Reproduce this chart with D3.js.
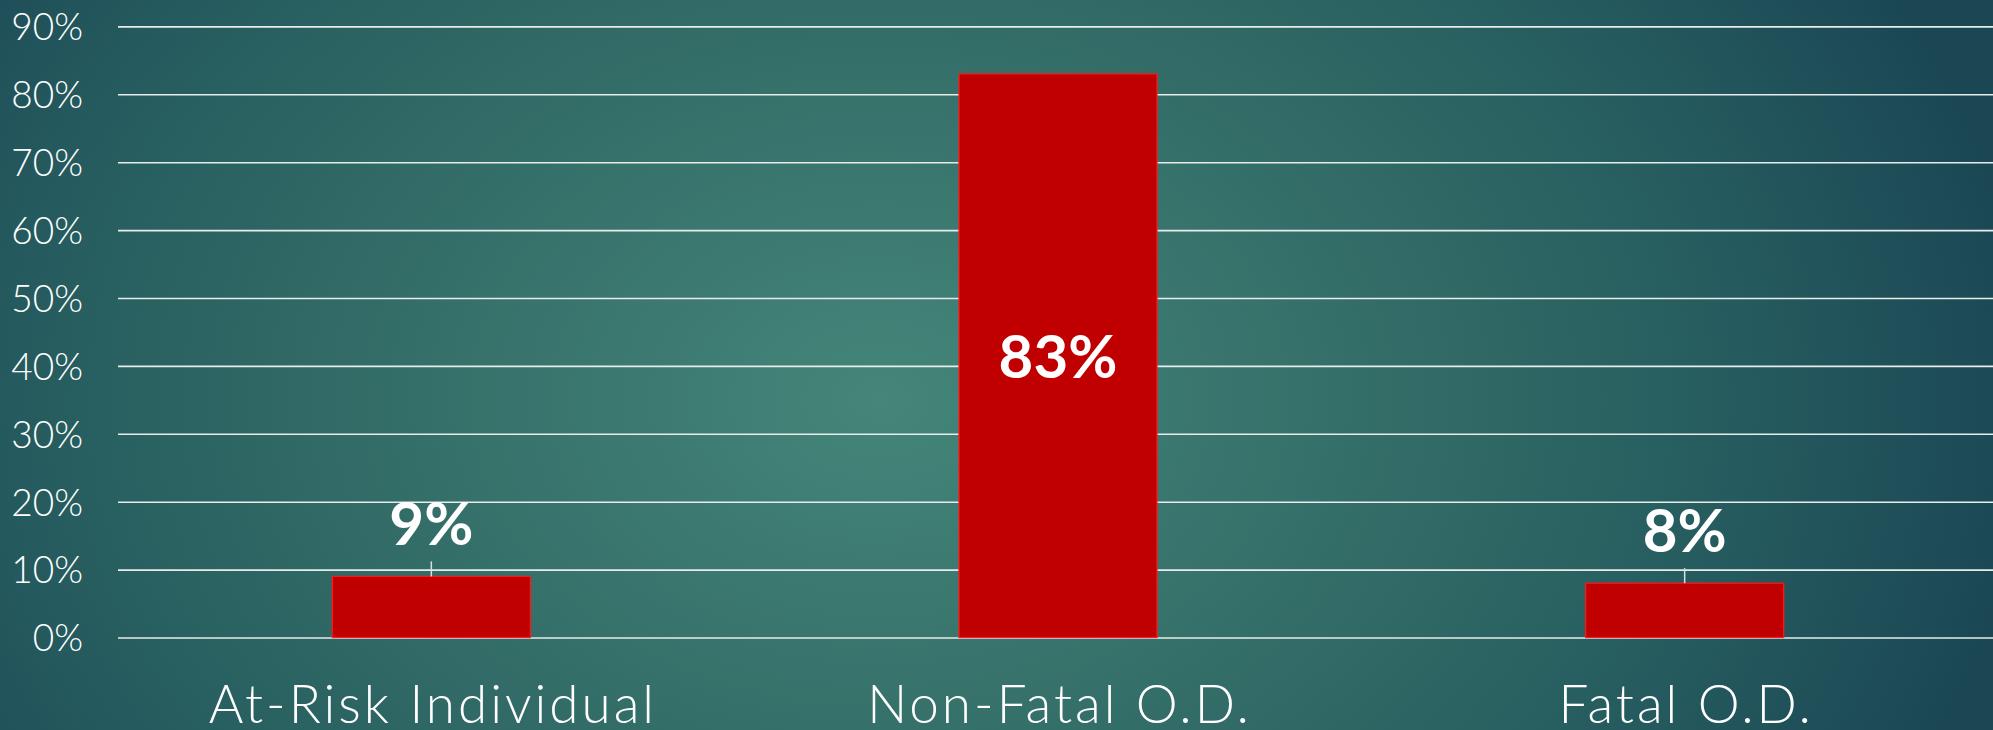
<!DOCTYPE html>
<html>
<head>
<meta charset="utf-8">
<script src="https://cdn.jsdelivr.net/npm/d3@7"></script>
<style>
  html, body { margin: 0; padding: 0; overflow: hidden; background: #1f4e56; }
  svg { display: block; }
</style>
</head>
<body>
<svg id="chart" width="1993" height="730"></svg>
<script>
const categories = ["At-Risk Individual", "Non-Fatal O.D.", "Fatal O.D."];
const values = [0.09, 0.83, 0.08];
const valueLabels = ["9%", "83%", "8%"];
const tickValues = [0, 0.1, 0.2, 0.3, 0.4, 0.5, 0.6, 0.7, 0.8, 0.9];

const W = 1993, H = 730;
const svg = d3.select("#chart");

// background radial gradient
const defs = svg.append("defs");
const grad = defs.append("radialGradient")
  .attr("id", "bg").attr("gradientUnits", "userSpaceOnUse")
  .attr("cx", 880).attr("cy", 400).attr("r", 1150)
  .attr("gradientTransform", "translate(880,400) scale(1,0.75) translate(-880,-400)");
grad.append("stop").attr("offset", "0%").attr("stop-color", "#44867a");
grad.append("stop").attr("offset", "40%").attr("stop-color", "#356f69");
grad.append("stop").attr("offset", "75%").attr("stop-color", "#255b5e");
grad.append("stop").attr("offset", "100%").attr("stop-color", "#1b4755");
svg.append("rect").attr("width", W).attr("height", H).attr("fill", "url(#bg)");

const x = d3.scaleBand().domain(categories).range([118, 1998]).paddingInner(0).paddingOuter(0);
const y = d3.scaleLinear().domain([0, 0.9]).range([637.5, 26.4]);
const barW = x.bandwidth() * 0.316;

// gridlines
const grid = svg.append("g")
  .attr("transform", "translate(118,0)")
  .call(d3.axisLeft(y).tickValues(tickValues).tickSize(-(W - 118)).tickFormat(""));
grid.select(".domain").remove();
grid.selectAll(".tick line").attr("stroke", "#e6ecea").attr("stroke-width", 1.6);

// y tick labels
const yAxis = svg.append("g")
  .attr("transform", "translate(83,0)")
  .call(d3.axisLeft(y).tickValues(tickValues).tickSize(0).tickPadding(0).tickFormat(d3.format(".0%")));
yAxis.select(".domain").remove();
yAxis.selectAll("text")
  .attr("fill", "#ffffff")
  .attr("font-family", "Lato, 'Open Sans', sans-serif")
  .attr("font-weight", 300)
  .attr("font-size", 37)
  .attr("dy", "0.36em");

// bars
svg.selectAll("rect.bar").data(values).enter().append("rect")
  .attr("class", "bar")
  .attr("x", (d, i) => x(categories[i]) + x.bandwidth() / 2 - barW / 2)
  .attr("y", d => y(d))
  .attr("width", barW)
  .attr("height", d => y(0) - y(d))
  .attr("fill", "#c00000")
  .attr("stroke", "#ff1a1a")
  .attr("stroke-width", 1.2);

// data labels
const inside = d => (y(0) - y(d)) > 100;
svg.selectAll("text.vlab").data(values).enter().append("text")
  .attr("class", "vlab")
  .attr("x", (d, i) => x(categories[i]) + x.bandwidth() / 2)
  .attr("y", d => inside(d) ? (y(d) + y(0)) / 2 + 22 : y(d) - 31)
  .attr("text-anchor", "middle")
  .attr("fill", "#ffffff")
  .attr("font-family", "Lato, 'Open Sans', sans-serif")
  .attr("font-weight", 700)
  .attr("font-size", 60)
  .text((d, i) => valueLabels[i]);

// leader lines for labels placed above short bars
const leaders = values.map((d, i) => ({ d, i })).filter(o => !inside(o.d));
svg.selectAll("line.leader").data(leaders).enter().append("line")
  .attr("class", "leader")
  .attr("x1", o => x(categories[o.i]) + x.bandwidth() / 2)
  .attr("x2", o => x(categories[o.i]) + x.bandwidth() / 2)
  .attr("y1", o => y(o.d) - 15)
  .attr("y2", o => y(o.d))
  .attr("stroke", "#d9dfde")
  .attr("stroke-width", 1.5);

// x category labels
const xAxis = svg.append("g")
  .attr("transform", "translate(0,637.5)")
  .call(d3.axisBottom(x).tickSize(0).tickPadding(0));
xAxis.select(".domain").remove();
xAxis.selectAll("text")
  .attr("fill", "#ffffff")
  .attr("font-family", "Lato, 'Open Sans', sans-serif")
  .attr("font-weight", 300)
  .attr("font-size", 53)
  .attr("letter-spacing", 3)
  .attr("dx", 1.5)
  .attr("dy", 0)
  .attr("y", 85);
</script>
</body>
</html>
